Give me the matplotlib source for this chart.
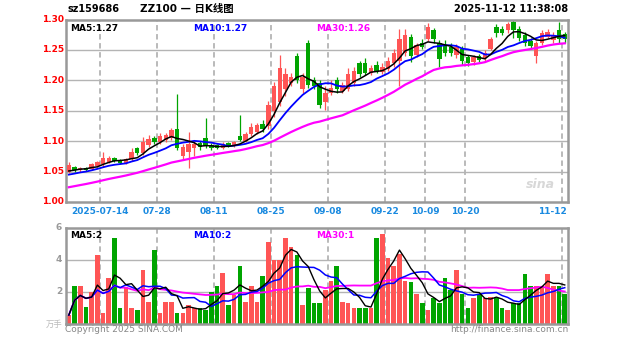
import matplotlib
matplotlib.use("Agg")
import matplotlib.pyplot as plt
import pandas as pd

plt.rcParams['font.family'] = ['DejaVu Sans', 'Noto Sans CJK SC']

# date ticks (index of the trading day, first day shown is 2025-07-04)
tick_labels = ["2025-07-14", "07-28", "08-11", "08-25", "09-08", "09-22", "10-09", "10-20", "11-12"]
tick_idx = [6, 16, 26, 36, 46, 56, 63, 70, 87]

# closes before the window, only used for the moving averages
june_close = [1.000, 1.002, 1.001, 1.004, 1.006, 1.005, 1.008, 1.010, 1.009, 1.012,
              1.015, 1.014, 1.017, 1.020, 1.019, 1.023, 1.025, 1.027, 1.030, 1.032,
              1.035, 1.037, 1.039, 1.041, 1.043, 1.045, 1.048, 1.050, 1.052]

open_ = [1.050, 1.058, 1.052, 1.056, 1.054, 1.060, 1.062, 1.066, 1.072, 1.068,
         1.064, 1.070, 1.088, 1.080, 1.094, 1.106, 1.098, 1.102, 1.105, 1.120,
         1.075, 1.082, 1.088, 1.097, 1.105, 1.094, 1.093, 1.089, 1.097, 1.092,
         1.108, 1.100, 1.112, 1.115, 1.128, 1.125, 1.150, 1.165, 1.185, 1.195,
         1.240, 1.185, 1.262, 1.200, 1.195, 1.165, 1.180, 1.200, 1.183, 1.185,
         1.195, 1.228, 1.228, 1.212, 1.226, 1.214, 1.218, 1.228, 1.232, 1.245,
         1.272, 1.242, 1.262, 1.268, 1.282, 1.262, 1.258, 1.255, 1.242, 1.252,
         1.238, 1.230, 1.240, 1.236, 1.252, 1.288, 1.285, 1.282, 1.296, 1.285,
         1.275, 1.265, 1.240, 1.262, 1.272, 1.266, 1.282, 1.276]
close = [1.060, 1.052, 1.056, 1.053, 1.062, 1.066, 1.072, 1.072, 1.067, 1.064,
         1.071, 1.082, 1.080, 1.098, 1.104, 1.098, 1.108, 1.110, 1.118, 1.088,
         1.090, 1.095, 1.096, 1.090, 1.092, 1.089, 1.089, 1.096, 1.092, 1.098,
         1.102, 1.112, 1.124, 1.126, 1.120, 1.160, 1.190, 1.220, 1.210, 1.205,
         1.200, 1.205, 1.192, 1.190, 1.160, 1.180, 1.188, 1.185, 1.192, 1.210,
         1.215, 1.210, 1.212, 1.220, 1.216, 1.222, 1.232, 1.245, 1.268, 1.275,
         1.240, 1.258, 1.255, 1.288, 1.268, 1.235, 1.245, 1.245, 1.255, 1.232,
         1.228, 1.238, 1.234, 1.245, 1.268, 1.278, 1.278, 1.292, 1.282, 1.270,
         1.262, 1.256, 1.262, 1.278, 1.280, 1.274, 1.268, 1.268]
high = [1.066, 1.060, 1.058, 1.058, 1.064, 1.068, 1.083, 1.075, 1.074, 1.070,
        1.073, 1.089, 1.090, 1.107, 1.110, 1.108, 1.113, 1.114, 1.121, 1.177,
        1.095, 1.115, 1.100, 1.100, 1.138, 1.097, 1.096, 1.099, 1.099, 1.100,
        1.143, 1.115, 1.130, 1.130, 1.135, 1.166, 1.198, 1.241, 1.220, 1.212,
        1.245, 1.212, 1.266, 1.205, 1.200, 1.190, 1.200, 1.205, 1.198, 1.220,
        1.222, 1.232, 1.236, 1.226, 1.232, 1.228, 1.238, 1.252, 1.284, 1.285,
        1.276, 1.262, 1.268, 1.294, 1.286, 1.266, 1.266, 1.262, 1.260, 1.256,
        1.242, 1.242, 1.244, 1.250, 1.272, 1.292, 1.290, 1.296, 1.300, 1.290,
        1.280, 1.270, 1.265, 1.282, 1.284, 1.280, 1.296, 1.280]
low = [1.047, 1.050, 1.050, 1.051, 1.052, 1.058, 1.058, 1.064, 1.065, 1.062,
       1.062, 1.067, 1.078, 1.077, 1.090, 1.096, 1.095, 1.098, 1.102, 1.085,
       1.070, 1.056, 1.075, 1.086, 1.088, 1.086, 1.087, 1.087, 1.090, 1.090,
       1.100, 1.098, 1.108, 1.112, 1.115, 1.120, 1.140, 1.158, 1.175, 1.190,
       1.196, 1.180, 1.188, 1.185, 1.154, 1.152, 1.176, 1.180, 1.180, 1.182,
       1.190, 1.205, 1.208, 1.208, 1.212, 1.210, 1.215, 1.222, 1.190, 1.240,
       1.230, 1.238, 1.252, 1.264, 1.262, 1.222, 1.240, 1.240, 1.236, 1.226,
       1.224, 1.226, 1.230, 1.232, 1.250, 1.272, 1.274, 1.278, 1.270, 1.265,
       1.256, 1.252, 1.228, 1.258, 1.270, 1.262, 1.262, 1.262]
volume = [0.56, 2.4, 2.4, 1.06, 2.0, 4.3, 0.7, 2.9, 5.4, 1.0,
          2.3, 1.0, 0.9, 3.4, 1.4, 4.6, 0.7, 1.4, 1.4, 0.7,
          0.7, 1.2, 1.0, 1.0, 0.9, 2.0, 2.4, 3.2, 1.2, 1.8,
          3.6, 1.4, 2.4, 1.4, 3.0, 5.1, 4.0, 4.0, 5.4, 4.8,
          4.3, 1.2, 2.25, 1.3, 1.3, 2.1, 2.7, 3.6, 1.4, 1.3,
          1.0, 1.0, 1.0, 1.0, 5.4, 5.6, 4.1, 3.6, 4.4, 2.7,
          2.6, 1.9, 1.3, 0.9, 1.6, 1.3, 2.9, 2.1, 3.4, 1.9,
          1.0, 1.6, 1.9, 1.6, 1.7, 1.6, 1.0, 0.9, 1.3, 1.3,
          3.1, 2.4, 2.4, 2.4, 3.1, 2.4, 2.4, 1.9]

RED = '#ff5555'
GREEN = '#00a400'
GRID = '#b4b4b4'
n = len(close)
x = list(range(n))
colors = [RED if c >= o else GREEN for o, c in zip(open_, close)]

# moving averages
full = pd.Series(june_close + close)
k = len(june_close)
ma5 = full.rolling(5, min_periods=1).mean()[k:].values
ma10 = full.rolling(10, min_periods=1).mean()[k:].values
ma30 = full.rolling(30, min_periods=1).mean()[k:].values
vol = pd.Series(volume)
vma5 = vol.rolling(5, min_periods=1).mean().values
vma10 = vol.rolling(10, min_periods=1).mean().values
vma30 = vol.rolling(30, min_periods=1).mean().values

W, H = 627, 342
fig = plt.figure(figsize=(W / 100, H / 100), dpi=100)
left, right = 66, 567.6
ax = fig.add_axes([left / W, 1 - 202 / H, (right - left) / W, (202 - 19.5) / H])
axv = fig.add_axes([left / W, 1 - 324 / H, (right - left) / W, (324 - 228) / H])

def style(a):
    for s in a.spines.values():
        s.set_color('#999999')
        s.set_linewidth(1.8)
    a.set_xlim(-0.5, n - 0.5)
    a.set_xticks([])
    a.set_yticks([])
    for t in tick_idx:
        a.axvline(t - 0.5, color=GRID, lw=1.3, ls=(0, (3, 2)), zorder=0)

# price panel
style(ax)
ax.set_ylim(1.00, 1.30)
for v in [1.05, 1.10, 1.15, 1.20, 1.25]:
    ax.axhline(v, color=GRID, lw=1.0, zorder=0)
ax.vlines(x, low, high, colors=colors, lw=0.9, zorder=2)
body_bottom = [min(o, c) for o, c in zip(open_, close)]
body_h = [max(abs(c - o), 0.0015) for o, c in zip(open_, close)]
ax.bar(x, body_h, bottom=body_bottom, width=0.78, color=colors, zorder=3)
ax.plot(x, ma30, color='#ff00ff', lw=1.6, zorder=4)
ax.plot(x, ma10, color='#0000ff', lw=1.3, zorder=4)
ax.plot(x, ma5, color='black', lw=1.1, zorder=5)
for v, lab in zip([1.00, 1.05, 1.10, 1.15, 1.20, 1.25, 1.30],
                  ["1.00", "1.05", "1.10", "1.15", "1.20", "1.25", "1.30"]):
    ax.text(-0.9, v, lab, color='red', fontsize=6.5, fontweight='bold',
            ha='right', va='center', clip_on=False)
ax.text(0.008, 0.975, "MA5:1.27", transform=ax.transAxes, fontsize=6.5,
        fontweight='bold', color='black', va='top')
ax.text(0.253, 0.975, "MA10:1.27", transform=ax.transAxes, fontsize=6.5,
        fontweight='bold', color='#0000ff', va='top')
ax.text(0.498, 0.975, "MA30:1.26", transform=ax.transAxes, fontsize=6.5,
        fontweight='bold', color='#ff00ff', va='top')
ax.text(0.975, 0.06, "sina", transform=ax.transAxes, fontsize=9, style='italic',
        fontweight='bold', color='#d8d8d8', ha='right', va='bottom')

# date labels under the price panel
for t, lab in zip(tick_idx, tick_labels):
    last = t == n - 1
    ax.text(t + 0.3 if last else t - 0.5, -0.025, lab, color='#1a8ae0', fontsize=6.5,
            fontweight='bold', ha='right' if last else 'center', va='top',
            transform=ax.get_xaxis_transform(), clip_on=False)

# volume panel
style(axv)
axv.set_ylim(0, 6)
for v in [2, 4]:
    axv.axhline(v, color=GRID, lw=1.0, zorder=0)
axv.bar(x, volume, width=0.82, color=colors, zorder=2)
axv.plot(x, vma30, color='#ff00ff', lw=1.3, zorder=3)
axv.plot(x, vma10, color='#0000ff', lw=1.1, zorder=3)
axv.plot(x, vma5, color='black', lw=1.0, zorder=4)
for v in [2, 4, 6]:
    axv.text(-1.2, v, str(v), color='#999999', fontsize=6.5, fontweight='bold',
             ha='right', va='center', clip_on=False)
axv.text(-1.2, 0, "万手", color='#bbbbbb', fontsize=6, ha='right', va='center',
         clip_on=False)
axv.text(0.008, 0.97, "MA5:2", transform=axv.transAxes, fontsize=6.5,
         fontweight='bold', color='black', va='top')
axv.text(0.253, 0.97, "MA10:2", transform=axv.transAxes, fontsize=6.5,
         fontweight='bold', color='#0000ff', va='top')
axv.text(0.498, 0.97, "MA30:1", transform=axv.transAxes, fontsize=6.5,
         fontweight='bold', color='#ff00ff', va='top')

# header and footer
fig.text(68 / W, 1 - 9 / H, "sz159686", fontsize=7, fontweight='bold', va='center')
fig.text(140 / W, 1 - 9 / H, "ZZ100 — 日K线图", fontsize=7.5, fontweight='bold', va='center')
fig.text(568 / W, 1 - 9 / H, "2025-11-12 11:38:08", fontsize=7, fontweight='bold',
         va='center', ha='right')
fig.text(65 / W, 1 - 330 / H, "Copyright 2025 SINA.COM", fontsize=6.5, color='#888888',
         va='center')
fig.text(568 / W, 1 - 330 / H, "http://finance.sina.com.cn", fontsize=6.5,
         color='#888888', va='center', ha='right')

fig.savefig("out.png", dpi=100)
